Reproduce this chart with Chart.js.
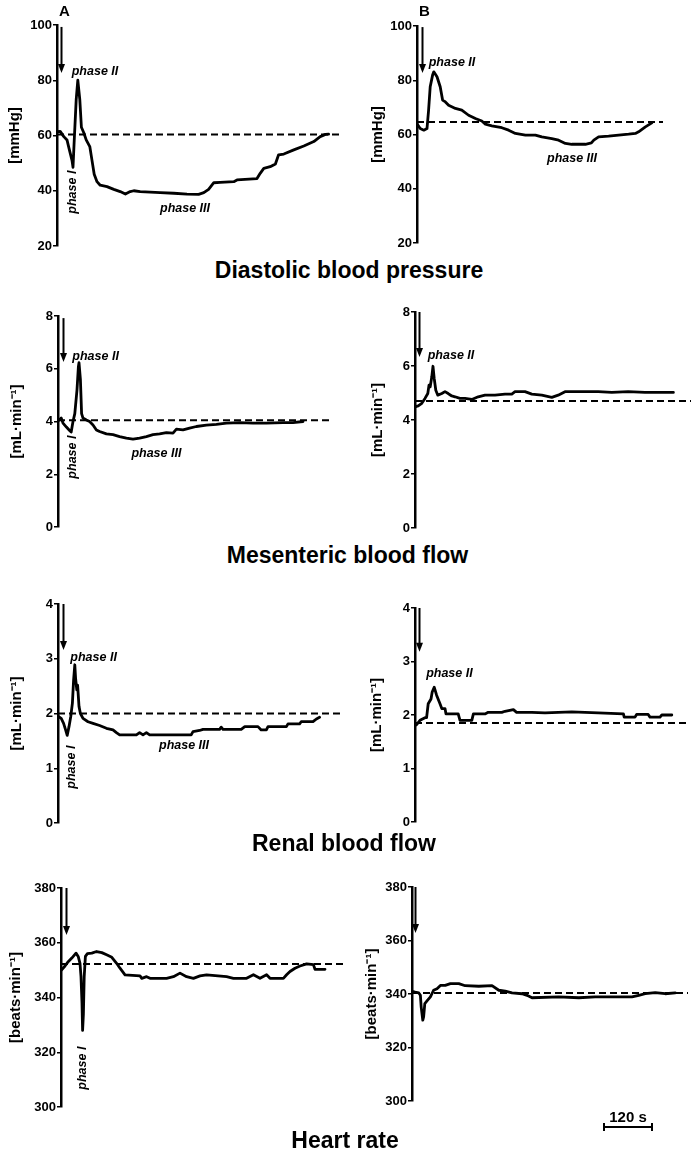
<!DOCTYPE html>
<html>
<head>
<meta charset="utf-8">
<script src="https://cdn.jsdelivr.net/npm/chart.js@4/dist/chart.umd.min.js"></script>
<style>
  html, body { margin: 0; padding: 0; background: #fff; }
  body { width: 691px; height: 1153px; position: relative; overflow: hidden;
         font-family: Arial, "Liberation Sans", Helvetica, sans-serif; }
  canvas { position: absolute; }
  .ttl { position: absolute; left: 0; width: 691px; text-align: center; font-weight: bold;
         font-size: 23px; line-height: 23px; color: #000; white-space: nowrap; }
  .lab { position: absolute; font-weight: bold; font-size: 15px; line-height: 15px; color: #000; }
</style>
</head>
<body>
<script>
// ---------------- DATA ----------------
// time in seconds from start of recording
const sectionTitles = ['Diastolic blood pressure', 'Mesenteric blood flow', 'Renal blood flow', 'Heart rate'];
const yTitles = ['[mmHg]', '[mL\u00B7min\u207B\u00B9]', '[mL\u00B7min\u207B\u00B9]', '[beats\u00B7min\u207B\u00B9]'];
const columnLabels = ['A', 'B'];

const dbpTicks = [20, 40, 60, 80, 100];
const mesTicks = [0, 2, 4, 6, 8];
const renTicks = [0, 1, 2, 3, 4];
const hrTicks = [300, 320, 340, 360, 380];

// Diastolic blood pressure, A
const dbpA_t = [0, 8, 17, 25, 29, 33, 37.5, 40, 43, 48, 52, 57, 61, 67, 73, 82, 87.5, 93, 100, 108, 125, 142, 158, 171, 183, 192, 208, 258, 292, 325, 354, 367, 379, 392, 408, 442, 450, 500, 508, 517, 533, 546, 554, 567, 592, 617, 642, 658, 671, 679];
const dbpA_v = [61.4, 61.5, 59.6, 58.4, 56, 53.6, 51, 48.5, 58, 73, 80, 73, 63, 61, 58.4, 56, 51, 46, 43.3, 42, 41.5, 40.5, 39.7, 38.8, 39.7, 40, 39.7, 39.3, 39.1, 38.8, 38.7, 39.3, 40.5, 42.9, 43, 43.3, 43.9, 44.4, 46.3, 48.1, 48.7, 49.7, 53, 53.3, 54.8, 56.2, 57.8, 59.6, 60.4, 60.5];
const dbpA_base = [60.4, 60.4];
const dbpA_baseT = [0, 707.5];

// Diastolic blood pressure, B
const dbpB_t = [0, 8, 17, 25, 29, 33, 39, 42, 50, 58, 64, 71, 79, 96, 112, 129, 146, 162, 171, 187, 212, 229, 246, 271, 296, 312, 337, 354, 371, 387, 421, 436, 442, 454, 479, 504, 529, 546, 554, 571, 587];
const dbpB_v = [64, 62.2, 61.6, 62.2, 69, 77.6, 81.9, 83.1, 81.3, 77.6, 72.7, 72, 70.8, 69.6, 69, 67.1, 65.9, 65, 63.8, 63.2, 62.5, 61.6, 60.4, 59.8, 59.8, 59.1, 58.5, 57.9, 56.7, 56.4, 56.4, 56.9, 57.9, 59.1, 59.4, 59.8, 60.1, 60.4, 61, 62.8, 64.3];
const dbpB_base = [64.6, 64.6];
const dbpB_baseT = [0, 615];

// Mesenteric blood flow, A
const mesA_t = [2.5, 8, 12.5, 21, 29, 33, 37.5, 42, 47.5, 51, 52.5, 56, 59, 62.5, 71, 79, 87.5, 96, 104, 121, 137.5, 154, 171, 187.5, 204, 221, 237.5, 254, 271, 287.5, 296, 312.5, 329, 346, 371, 396, 421, 454, 487.5, 521, 562.5, 587.5, 612.5];
const mesA_v = [4.05, 4.13, 3.94, 3.79, 3.66, 3.6, 4.0, 4.3, 5.2, 6.08, 6.23, 5.6, 4.3, 4.13, 4.06, 4.0, 3.87, 3.68, 3.62, 3.53, 3.5, 3.43, 3.37, 3.33, 3.37, 3.43, 3.5, 3.53, 3.58, 3.56, 3.71, 3.68, 3.75, 3.81, 3.86, 3.89, 3.94, 3.96, 3.94, 3.94, 3.96, 3.96, 4.0];
const mesA_base = [4.05, 4.05];
const mesA_baseT = [0, 687.5];

// Mesenteric blood flow, B
const mesB_t = [0, 8, 17, 25, 32, 35, 38, 42, 45, 48, 52, 57, 67, 75, 83, 92, 100, 112.5, 125, 142, 158, 175, 200, 225, 242, 250, 275, 292, 317, 342, 358, 375, 408, 458, 492, 533, 575, 617, 646];
const mesB_v = [4.49, 4.52, 4.62, 4.8, 4.98, 5.29, 5.23, 5.6, 5.99, 5.54, 5.1, 4.92, 4.98, 5.05, 4.98, 4.89, 4.86, 4.8, 4.8, 4.76, 4.86, 4.92, 4.92, 4.96, 4.96, 5.05, 5.05, 4.96, 4.92, 4.84, 4.92, 5.05, 5.05, 5.05, 5.02, 5.05, 5.02, 5.02, 5.02];
const mesB_base = [4.7, 4.7];
const mesB_baseT = [0, 690];

// Renal blood flow, A
const renA_t = [0, 8, 14, 19, 23, 27.5, 32, 36, 39, 42, 44, 47, 49, 52.5, 56, 62.5, 75, 87.5, 104, 121, 137.5, 146, 154, 196, 204, 212.5, 221, 229, 333, 337.5, 354, 362.5, 404, 408, 412.5, 458, 467, 500, 508, 521, 525, 571, 575, 604, 608, 637.5, 646, 654];
const renA_v = [1.95, 1.91, 1.82, 1.70, 1.60, 1.76, 1.95, 2.19, 2.61, 2.89, 2.64, 2.43, 2.52, 2.13, 2.0, 1.91, 1.85, 1.82, 1.78, 1.73, 1.70, 1.65, 1.61, 1.61, 1.65, 1.61, 1.65, 1.61, 1.61, 1.67, 1.69, 1.71, 1.71, 1.75, 1.71, 1.71, 1.76, 1.76, 1.70, 1.70, 1.76, 1.76, 1.81, 1.81, 1.85, 1.85, 1.90, 1.93];
const renA_base = [2.0, 2.0];
const renA_baseT = [0, 712.5];

// Renal blood flow, B
const renB_t = [0, 4, 12.5, 25, 29, 33, 40, 43, 48, 54, 62.5, 67, 75, 77.5, 108, 112.5, 142, 146, 175, 183, 217, 225, 246, 254, 292, 325, 392, 458, 521, 523, 550, 554, 583, 587.5, 612.5, 617, 642];
const renB_v = [1.80, 1.82, 1.90, 1.95, 1.95, 2.21, 2.30, 2.43, 2.52, 2.37, 2.21, 2.12, 2.12, 2.02, 2.02, 1.90, 1.90, 2.02, 2.02, 2.05, 2.05, 2.07, 2.10, 2.05, 2.05, 2.04, 2.06, 2.04, 2.02, 1.96, 1.96, 2.01, 2.01, 1.96, 1.96, 2.0, 2.0];
const renB_base = [1.85, 1.85];
const renB_baseT = [0, 682.5];

// Heart rate, A
const hrA_t = [1.7, 10, 18, 27, 37.5, 43, 47.5, 50, 52.5, 54, 56, 58, 61, 66, 77, 89, 102, 114, 127, 139, 147.5, 160, 197.5, 202, 214, 222.5, 264, 281, 297.5, 314, 331, 347.5, 364, 414, 431, 464, 481, 497.5, 514, 522.5, 556, 564, 572.5, 585, 597.5, 614, 631, 635, 660];
const hrA_v = [350.1, 351.5, 353.1, 354.4, 356.2, 355, 352.5, 347.6, 337.9, 328, 334, 347.6, 355, 356, 356.2, 356.8, 356.4, 355.6, 354.7, 352.5, 350.7, 348.3, 347.9, 347, 347.6, 347, 347, 347.6, 348.9, 347.6, 347, 347.9, 348.3, 347.6, 347, 347, 348.3, 347, 348.3, 347, 347, 348.3, 349.5, 350.7, 351.5, 352.3, 352, 350.3, 350.3];
const hrA_base = [352.2, 352.2];
const hrA_baseT = [0, 705];

// Heart rate, B
const hrB_t = [0, 8, 17, 21, 23, 27, 29, 32, 37.5, 46, 54, 62.5, 71, 83, 96, 117, 133, 167, 200, 217, 233, 250, 275, 287.5, 300, 367, 417, 458, 550, 567, 583, 608, 633, 658];
const hrB_v = [341, 340.7, 340.4, 339.5, 335.1, 330.2, 331.4, 336.4, 337.4, 338.9, 341.4, 342, 343.2, 343.2, 343.9, 343.9, 343.1, 342.9, 343.1, 341.4, 341.1, 340.4, 340.1, 339.5, 338.6, 338.9, 338.6, 338.9, 338.9, 339.5, 340.1, 340.5, 340.1, 340.4];
const hrB_base = [340.4, 340.4];
const hrB_baseT = [0, 690];

// Time scale bar (seconds)
const scaleBarT = [480, 600];
const scaleBarLabel = '120 s';

// ---------------- ANNOTATIONS (data coordinates) ----------------
const annotations = {
  A1: { arrow: [10, 99.3, 82.6], labels: [
        { text: 'phase II', x: 95, y: 83 }, { text: 'phase I', x: 40, y: 39.5, rot: true }, { text: 'phase III', x: 320, y: 33.4 }] },
  B1: { arrow: [12.5, 99.6, 82.7], labels: [
        { text: 'phase II', x: 87.5, y: 86.7 }, { text: 'phase III', x: 387.5, y: 51.3 }] },
  A2: { arrow: [12.5, 7.92, 6.26], labels: [
        { text: 'phase II', x: 94, y: 6.45 }, { text: 'phase I', x: 37.5, y: 2.65, rot: true }, { text: 'phase III', x: 246, y: 2.8 }] },
  B2: { arrow: [10, 8, 6.33], labels: [{ text: 'phase II', x: 90, y: 6.37 }] },
  A3: { arrow: [12.5, 4, 3.16], labels: [
        { text: 'phase II', x: 89, y: 3.03 }, { text: 'phase I', x: 35, y: 1.02, rot: true }, { text: 'phase III', x: 315, y: 1.41 }] },
  B3: { arrow: [10, 4, 3.18], labels: [{ text: 'phase II', x: 86, y: 2.77 }] },
  A4: { arrow: [12.5, 380, 362.8], labels: [{ text: 'phase I', x: 55, y: 314.2, rot: true }] },
  B4: { arrow: [7.5, 380, 362.8], labels: [], scaleBar: true }
};

// ---------------- LAYOUT (pixels) ----------------
const FONT = 'Arial, "Liberation Sans", Helvetica, sans-serif';
const layoutGeom = {
  A1: { left: 0,   width: 345, top: 25,  bottom: 246,  axisX: 57,  right: 343, titleX: 15 },
  B1: { left: 345, width: 346, top: 26,  bottom: 243,  axisX: 417, right: 691, titleX: 378 },
  A2: { left: 0,   width: 345, top: 316, bottom: 527,  axisX: 58,  right: 343, titleX: 17 },
  B2: { left: 345, width: 346, top: 312, bottom: 528,  axisX: 415, right: 691, titleX: 378 },
  A3: { left: 0,   width: 345, top: 604, bottom: 823,  axisX: 58,  right: 343, titleX: 17 },
  B3: { left: 345, width: 346, top: 608, bottom: 822,  axisX: 415, right: 691, titleX: 377 },
  A4: { left: 0,   width: 345, top: 888, bottom: 1107, axisX: 61,  right: 343, titleX: 16 },
  B4: { left: 345, width: 346, top: 887, bottom: 1101, axisX: 412, right: 691, titleX: 372, extraBottom: 52 }
};
const SEC_PER_PX = 2.5;

const panels = [
  { id: 'A1', t: dbpA_t, v: dbpA_v, bt: dbpA_baseT, bv: dbpA_base, ticks: dbpTicks, yTitle: yTitles[0] },
  { id: 'B1', t: dbpB_t, v: dbpB_v, bt: dbpB_baseT, bv: dbpB_base, ticks: dbpTicks, yTitle: yTitles[0] },
  { id: 'A2', t: mesA_t, v: mesA_v, bt: mesA_baseT, bv: mesA_base, ticks: mesTicks, yTitle: yTitles[1] },
  { id: 'B2', t: mesB_t, v: mesB_v, bt: mesB_baseT, bv: mesB_base, ticks: mesTicks, yTitle: yTitles[1] },
  { id: 'A3', t: renA_t, v: renA_v, bt: renA_baseT, bv: renA_base, ticks: renTicks, yTitle: yTitles[2] },
  { id: 'B3', t: renB_t, v: renB_v, bt: renB_baseT, bv: renB_base, ticks: renTicks, yTitle: yTitles[2] },
  { id: 'A4', t: hrA_t, v: hrA_v, bt: hrA_baseT, bv: hrA_base, ticks: hrTicks, yTitle: yTitles[3] },
  { id: 'B4', t: hrB_t, v: hrB_v, bt: hrB_baseT, bv: hrB_base, ticks: hrTicks, yTitle: yTitles[3] }
];

// ---------------- PLUGIN: arrows, phase labels, scale bar ----------------
const annotPlugin = {
  id: 'annot',
  afterDatasetsDraw(chart, args, opts) {
    const a = annotations[opts.key];
    if (!a) return;
    const { ctx, scales: { x, y }, chartArea } = chart;
    ctx.save();
    ctx.fillStyle = '#000';
    ctx.strokeStyle = '#000';
    // arrow
    if (a.arrow) {
      const ax = Math.round(x.getPixelForValue(a.arrow[0])) + 0.5;
      const y1 = y.getPixelForValue(a.arrow[1]);
      const y2 = y.getPixelForValue(a.arrow[2]);
      const head = 9, hw = 3.5;
      ctx.lineWidth = 2;
      ctx.beginPath();
      ctx.moveTo(ax, y1);
      ctx.lineTo(ax, y2 - head + 1);
      ctx.stroke();
      ctx.beginPath();
      ctx.moveTo(ax - hw, y2 - head);
      ctx.lineTo(ax + hw, y2 - head);
      ctx.lineTo(ax, y2);
      ctx.closePath();
      ctx.fill();
    }
    // labels
    ctx.font = 'italic bold 12.5px ' + FONT;
    ctx.textAlign = 'center';
    ctx.textBaseline = 'middle';
    for (const l of a.labels) {
      const px = x.getPixelForValue(l.x);
      const py = y.getPixelForValue(l.y);
      if (l.rot) {
        ctx.save();
        ctx.translate(px, py);
        ctx.rotate(-Math.PI / 2);
        ctx.fillText(l.text, 0, 0);
        ctx.restore();
      } else {
        ctx.fillText(l.text, px, py);
      }
    }
    // scale bar
    if (a.scaleBar) {
      const x1 = x.getPixelForValue(scaleBarT[0]);
      const x2 = x.getPixelForValue(scaleBarT[1]);
      const by = chartArea.bottom + 26;
      ctx.lineWidth = 2;
      ctx.beginPath();
      ctx.moveTo(x1, by); ctx.lineTo(x2, by);
      ctx.moveTo(x1, by - 4); ctx.lineTo(x1, by + 4);
      ctx.moveTo(x2, by - 4); ctx.lineTo(x2, by + 4);
      ctx.stroke();
      ctx.font = 'bold 15px ' + FONT;
      ctx.textBaseline = 'alphabetic';
      ctx.fillText(scaleBarLabel, (x1 + x2) / 2, by - 5);
    }
    ctx.restore();
  }
};

// ---------------- BUILD ----------------
function pts(t, v) { return t.map((tt, i) => ({ x: tt, y: v[i] })); }

panels.forEach(p => {
  const g = layoutGeom[p.id];
  const padTop = 10;
  const padBottom = g.extraBottom || 10;
  const cv = document.createElement('canvas');
  const h = g.bottom - g.top + padTop + padBottom;
  cv.width = g.width; cv.height = h;
  cv.style.left = g.left + 'px';
  cv.style.top = (g.top - padTop) + 'px';
  cv.style.width = g.width + 'px';
  cv.style.height = h + 'px';
  document.body.appendChild(cv);

  const axisW = g.axisX - g.left;
  const xmax = (g.right - g.axisX) * SEC_PER_PX;
  const titleFont = 15, titleLH = titleFont * 1.2;
  const titlePad = (g.titleX - g.left) - titleLH / 2;

  new Chart(cv, {
    type: 'line',
    data: {
      datasets: [
        { data: pts(p.bt, p.bv), borderColor: '#000', borderWidth: 2, borderDash: [7, 4],
          pointRadius: 0, fill: false, order: 2 },
        { data: pts(p.t, p.v), borderColor: '#000', borderWidth: 2.8, pointRadius: 0,
          borderJoinStyle: 'round', borderCapStyle: 'round', fill: false, tension: 0, order: 1 }
      ]
    },
    options: {
      responsive: false,
      animation: false,
      devicePixelRatio: 1,
      events: [],
      layout: { padding: { top: padTop, bottom: padBottom, left: 0, right: g.left + g.width - g.right } },
      plugins: { legend: { display: false }, tooltip: { enabled: false }, annot: { key: p.id } },
      scales: {
        x: { type: 'linear', display: false, min: 0, max: xmax },
        y: {
          type: 'linear',
          min: p.ticks[0], max: p.ticks[p.ticks.length - 1],
          afterBuildTicks: s => { s.ticks = p.ticks.map(v => ({ value: v })); },
          afterFit: s => { s.width = axisW; },
          border: { display: true, color: '#000', width: 2.5 },
          grid: { display: true, drawOnChartArea: false, drawTicks: true, tickLength: 4,
                  color: '#000', lineWidth: 1.5 },
          ticks: { color: '#000', padding: 1, autoSkip: false,
                   font: { family: FONT, size: 13, weight: 'bold' } },
          title: { display: true, text: p.yTitle, color: '#000',
                   font: { family: FONT, size: titleFont, weight: 'bold', lineHeight: 1.2 },
                   padding: { top: titlePad, bottom: 0 } }
        }
      }
    },
    plugins: [annotPlugin]
  });
});

// section titles (real HTML text)
const titleGeom = [ { cx: 349, base: 278 }, { cx: 347.5, base: 563 }, { cx: 344, base: 851 }, { cx: 345, base: 1148 } ];
sectionTitles.forEach((txt, i) => {
  const d = document.createElement('div');
  d.className = 'ttl';
  d.textContent = txt;
  d.style.left = (titleGeom[i].cx - 345.5) + 'px';
  d.style.top = (titleGeom[i].base - 19.5) + 'px';
  document.body.appendChild(d);
});
// column labels
const labGeom = [ { x: 59, y: 3 }, { x: 419, y: 3 } ];
columnLabels.forEach((txt, i) => {
  const d = document.createElement('div');
  d.className = 'lab';
  d.textContent = txt;
  d.style.left = labGeom[i].x + 'px';
  d.style.top = labGeom[i].y + 'px';
  document.body.appendChild(d);
});
</script>
</body>
</html>
